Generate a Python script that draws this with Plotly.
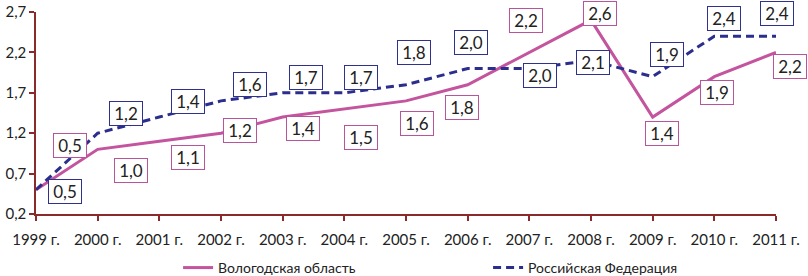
import plotly.graph_objects as go

years = [1999, 2000, 2001, 2002, 2003, 2004, 2005, 2006, 2007, 2008, 2009, 2010, 2011]
year_labels = [f"{y} г." for y in years]
vologda = [0.5, 1.0, 1.1, 1.2, 1.4, 1.5, 1.6, 1.8, 2.2, 2.6, 1.4, 1.9, 2.2]
russia = [0.5, 1.2, 1.4, 1.6, 1.7, 1.7, 1.8, 2.0, 2.0, 2.1, 1.9, 2.4, 2.4]
y_ticks = [0.2, 0.7, 1.2, 1.7, 2.2, 2.7]
y_tick_labels = ["0,2", "0,7", "1,2", "1,7", "2,2", "2,7"]
name_vologda = "Вологодская область"
name_russia = "Российская Федерация"

# label offsets (screen px: dx right, dy down)
off_vologda = [(34, -44), (33, 21), (29, 16), (19, -3), (20, 11), (17, 29), (11, 23),
               (-6, 23), (-3, -32), (9, -7), (9, 16), (3, 16), (14, 14)]
off_russia = [(29, 2), (28, -20), (29, -16), (29, -16), (23, -15), (17, -15), (8, -32),
              (3, -26), (11, 7), (2, 2), (14, -22), (10, -18), (1, -23)]

MAG = "#c4549e"
NAVY = "#2b2e8c"
AXIS = "#8b2a2a"
FONT = "Lato, 'Open Sans', sans-serif"

fig = go.Figure()
fig.add_trace(go.Scatter(x=years, y=vologda, mode="lines", name=name_vologda,
                         line=dict(color=MAG, width=3), cliponaxis=False))
fig.add_trace(go.Scatter(x=years, y=russia, mode="lines", name=name_russia,
                         line=dict(color=NAVY, width=3, dash="8px,5px"), cliponaxis=False))

def fmt(v):
    return f"{v:.1f}".replace(".", ",")

for vals, offs, col in ((vologda, off_vologda, "#b8549a"), (russia, off_russia, "#2f318e")):
    for x, v, (dx, dy) in zip(years, vals, offs):
        fig.add_annotation(x=x, y=v, xref="x", yref="y", text=fmt(v), showarrow=False,
                           xshift=dx, yshift=-dy, bgcolor="white", bordercolor=col,
                           borderwidth=1, borderpad=0, width=32, height=23,
                           font=dict(family=FONT, size=17, color="#222"))

fig.update_layout(
    width=808, height=276,
    margin=dict(l=36, r=32, t=12, b=62, autoexpand=False),
    paper_bgcolor="white", plot_bgcolor="white",
    showlegend=True,
    legend=dict(orientation="h", x=0.192, y=-0.188, xanchor="left", yanchor="top",
                font=dict(family=FONT, size=14, color="#222"),
                entrywidth=265, entrywidthmode="pixels"),
    font=dict(family=FONT, color="#222"),
)
fig.update_xaxes(range=[1999, 2011], tickvals=years, ticktext=year_labels,
                 showgrid=False, zeroline=False, showline=True, linecolor=AXIS, linewidth=1.5,
                 ticks="outside", ticklen=5, tickcolor=AXIS, tickwidth=1.5,
                 ticklabelstandoff=6,
                 tickfont=dict(family=FONT, size=15, color="#222"))
fig.update_yaxes(range=[0.2, 2.7], tickvals=y_ticks, ticktext=y_tick_labels,
                 showgrid=False, zeroline=False, showline=True, linecolor=AXIS, linewidth=1.5,
                 ticks="outside", ticklen=5, tickcolor=AXIS, tickwidth=1.5,
                 tickfont=dict(family=FONT, size=15, color="#222"))

fig.write_html("out.html", config={"displayModeBar": False},
               post_script="document.body.style.margin='0';")
